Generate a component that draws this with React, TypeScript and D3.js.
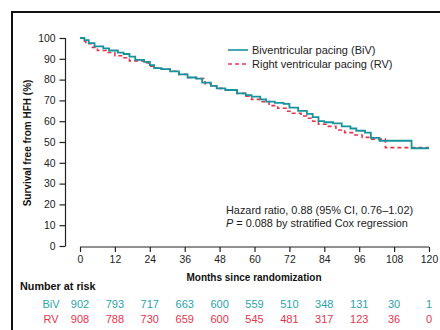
import React, { useEffect, useRef } from "react";
import * as d3 from "d3";

// Kaplan-Meier steps (months, % free from HFH)
const bivMonths = [0, 1.5, 3, 5, 8, 10, 13, 15, 17, 19, 22, 24, 25.5, 28, 31, 34, 37, 40, 42, 45, 47, 50, 54, 57, 59, 62, 64, 67, 70, 72, 75, 78, 80, 82, 84, 87, 90, 93, 95, 98, 100, 103, 114, 120];
const bivSurv = [100, 99, 97.5, 96, 95, 94, 93, 92.3, 91, 89.5, 88.5, 87, 85.5, 85, 84, 82.5, 81, 80.5, 78.5, 77, 75.8, 75, 73.4, 72.5, 71.8, 70.5, 69.4, 68.8, 68.3, 66.5, 65, 63.5, 62, 60, 59.5, 59, 57.5, 56.5, 55.4, 54.5, 52, 50.6, 47, 47];

const rvMonths = [0, 1, 2, 4, 6, 9, 12, 15, 17, 22, 24, 26, 28, 31, 34, 37, 40, 43, 45, 47, 50, 54, 57, 59, 62, 65, 68, 71, 73, 76, 78, 80, 82, 85, 88, 91, 94, 97, 100, 105, 120];
const rvSurv = [100, 98.5, 97.2, 95.5, 94, 93, 91.5, 90.5, 89, 88, 86.5, 85.5, 85, 84, 82.5, 81, 80.5, 78, 77, 75.8, 75, 73.4, 72, 70.5, 69.4, 67.5, 66.2, 64.8, 63.8, 62.5, 61.4, 60, 58.5, 57.5, 55.8, 54.5, 53.4, 52.2, 51.4, 47.3, 47.3];

const xTicks = [0, 12, 24, 36, 48, 60, 72, 84, 96, 108, 120];
const yTicks = [0, 10, 20, 30, 40, 50, 60, 70, 80, 90, 100];
const bivRisk = [902, 793, 717, 663, 600, 559, 510, 348, 131, 30, 1];
const rvRisk = [908, 788, 730, 659, 600, 545, 481, 317, 123, 36, 0];

const TEAL = "#17939b";
const TEAL_TXT = "#2aa3ad";
const RED = "#e5354f";
const FONT = "'Liberation Sans', Arial, sans-serif";

export default function App() {
  const ref = useRef<SVGSVGElement>(null);

  useEffect(() => {
    const svg = d3.select(ref.current);
    svg.selectAll("*").remove();

    const x = d3.scaleLinear().domain([0, 120]).range([80, 429]);
    const y = d3.scaleLinear().domain([0, 100]).range([246, 38]);

    // outer frame (cropped at right and bottom)
    svg.append("path")
      .attr("d", "M12,330V12H440")
      .attr("fill", "none")
      .attr("stroke", "#111")
      .attr("stroke-width", 2);

    // y axis
    const yAxis = svg.append("g")
      .attr("transform", "translate(65.5,0)")
      .call(d3.axisLeft(y).tickValues(yTicks).tickSize(6).tickPadding(4));
    // x axis
    const xAxis = svg.append("g")
      .attr("transform", "translate(0,247)")
      .call(d3.axisBottom(x).tickValues(xTicks).tickSize(5).tickPadding(4));

    [yAxis, xAxis].forEach(a => {
      a.select(".domain").attr("stroke", "#222").attr("stroke-width", 1.2);
      a.selectAll(".tick line").attr("stroke", "#222").attr("stroke-width", 1.2);
      a.selectAll(".tick text")
        .attr("font-family", FONT)
        .attr("font-size", 10.4)
        .attr("fill", "#222");
    });
    yAxis.select(".domain").attr("d", `M-0,${y(100)}V${y(0)}`);
    xAxis.select(".domain").attr("d", `M${x(0)},0H${x(120)}`);

    // y title
    svg.append("text")
      .attr("transform", `translate(30.5,${(y(100) + y(0)) / 2 + 1}) rotate(-90)`)
      .attr("text-anchor", "middle")
      .attr("font-family", FONT)
      .attr("font-size", 10)
      .attr("font-weight", "bold")
      .attr("fill", "#111")
      .text("Survival free from HFH (%)");

    // x title
    svg.append("text")
      .attr("x", 254)
      .attr("y", 281)
      .attr("text-anchor", "middle")
      .attr("font-family", FONT)
      .attr("font-size", 10)
      .attr("font-weight", "bold")
      .attr("fill", "#111")
      .text("Months since randomization");

    // curves
    const line = d3.line<[number, number]>()
      .x(d => x(d[0]))
      .y(d => y(d[1]))
      .curve(d3.curveStepAfter);

    svg.append("path")
      .datum(rvMonths.map((m, i) => [m, rvSurv[i]] as [number, number]))
      .attr("fill", "none")
      .attr("stroke", RED)
      .attr("stroke-width", 1.6)
      .attr("stroke-dasharray", "4,3")
      .attr("d", line);

    svg.append("path")
      .datum(bivMonths.map((m, i) => [m, bivSurv[i]] as [number, number]))
      .attr("fill", "none")
      .attr("stroke", TEAL)
      .attr("stroke-width", 1.8)
      .attr("d", line);

    // legend
    const legend = [
      { label: "Biventricular pacing (BiV)", color: TEAL, dash: null, yy: 50 },
      { label: "Right ventricular pacing (RV)", color: RED, dash: "4,3", yy: 64 },
    ];
    legend.forEach(l => {
      svg.append("line")
        .attr("x1", 228).attr("x2", 248)
        .attr("y1", l.yy).attr("y2", l.yy)
        .attr("stroke", l.color)
        .attr("stroke-width", 1.6)
        .attr("stroke-dasharray", l.dash);
      svg.append("text")
        .attr("x", 252)
        .attr("y", l.yy + 4)
        .attr("font-family", FONT)
        .attr("font-size", 11)
        .attr("fill", "#222")
        .text(l.label);
    });

    // hazard ratio note
    svg.append("text")
      .attr("x", 226).attr("y", 214)
      .attr("font-family", FONT).attr("font-size", 10.9).attr("fill", "#222")
      .text("Hazard ratio, 0.88 (95% CI, 0.76\u20131.02)");
    const p = svg.append("text")
      .attr("x", 226).attr("y", 227)
      .attr("font-family", FONT).attr("font-size", 10.9).attr("fill", "#222");
    p.append("tspan").attr("font-style", "italic").text("P");
    p.append("tspan").text(" = 0.088 by stratified Cox regression");

    // number at risk
    svg.append("text")
      .attr("x", 20).attr("y", 289.5)
      .attr("font-family", FONT).attr("font-size", 10.8)
      .attr("font-weight", "bold").attr("fill", "#111")
      .text("Number at risk");

    const rows = [
      { name: "BiV", values: bivRisk, color: TEAL_TXT, yy: 308 },
      { name: "RV", values: rvRisk, color: RED, yy: 323 },
    ];
    rows.forEach(r => {
      svg.append("text")
        .attr("x", 51).attr("y", r.yy)
        .attr("text-anchor", "middle")
        .attr("font-family", FONT).attr("font-size", 11)
        .attr("fill", r.color)
        .text(r.name);
      svg.append("g")
        .selectAll("text")
        .data(r.values)
        .join("text")
        .attr("x", (_d, i) => x(xTicks[i]))
        .attr("y", r.yy)
        .attr("text-anchor", "middle")
        .attr("font-family", FONT).attr("font-size", 11)
        .attr("fill", r.color)
        .text(d => d);
    });
  }, []);

  return (
    <svg
      ref={ref}
      width={440}
      height={330}
      style={{ position: "absolute", left: 0, top: 0, background: "#fff" }}
    />
  );
}
